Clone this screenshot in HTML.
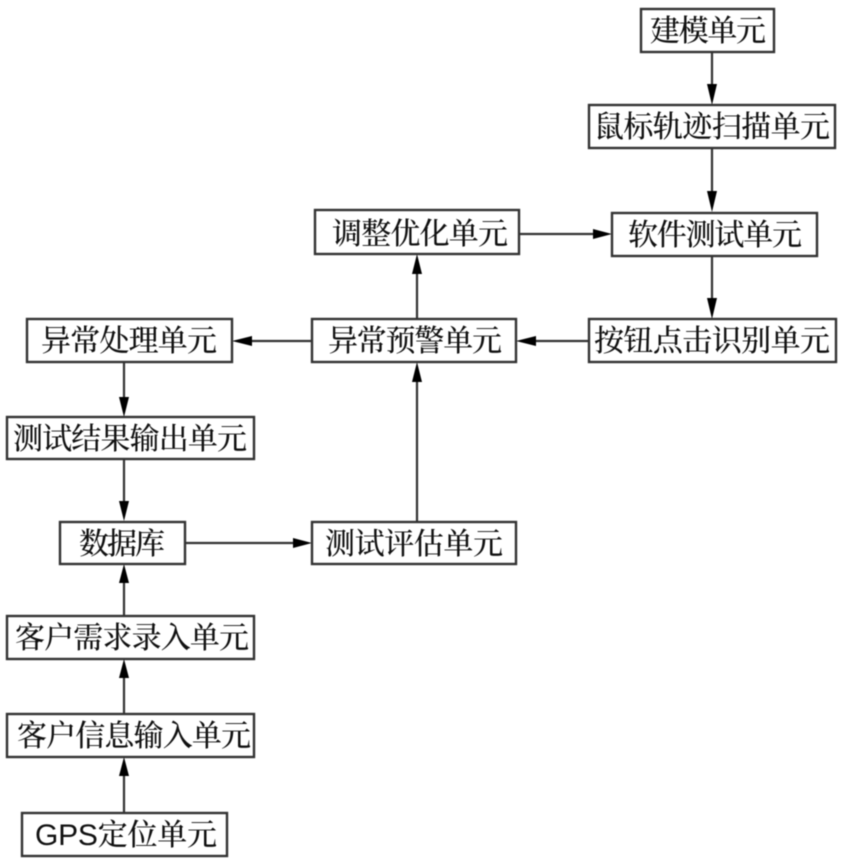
<!DOCTYPE html>
<html lang="zh">
<head>
<meta charset="utf-8">
<style>
html,body{margin:0;padding:0;background:#fff;width:843px;height:864px;overflow:hidden}
svg{display:block;filter:blur(.45px)}
rect{fill:#fff;stroke:#333;stroke-width:2.4}
line{stroke:#333;stroke-width:2.2}
polygon{fill:#000}
text{font-family:"Noto Serif CJK SC","Liberation Serif",serif;font-size:30px;font-weight:500;fill:#111;text-anchor:middle}
</style>
</head>
<body>
<svg width="843" height="864" viewBox="0 0 843 864" xmlns="http://www.w3.org/2000/svg">
<!-- connectors -->
<line x1="712" y1="52" x2="712" y2="96"/><polygon points="712,105 707,84 717,84"/>
<line x1="712" y1="148" x2="712" y2="203"/><polygon points="712,212 707,191 717,191"/>
<line x1="712" y1="256" x2="712" y2="310"/><polygon points="712,319 707,298 717,298"/>
<line x1="519" y1="234" x2="603" y2="234"/><polygon points="612,234 593,229 593,239"/>
<line x1="589" y1="341" x2="525" y2="341"/><polygon points="516,341 536,336 536,346"/>
<line x1="312" y1="341" x2="241" y2="341"/><polygon points="232,341 252,336 252,346"/>
<line x1="417" y1="319" x2="417" y2="263"/><polygon points="417,254 412,274 422,274"/>
<line x1="417" y1="521" x2="417" y2="371"/><polygon points="417,362 412,382 422,382"/>
<line x1="185" y1="543" x2="303" y2="543"/><polygon points="312,543 293,538 293,548"/>
<line x1="124" y1="362" x2="124" y2="408"/><polygon points="124,417 119,397 129,397"/>
<line x1="124" y1="459" x2="124" y2="512"/><polygon points="124,521 119,501 129,501"/>
<line x1="124" y1="616" x2="124" y2="573"/><polygon points="124,564 119,583 129,583"/>
<line x1="124" y1="714" x2="124" y2="668"/><polygon points="124,659 119,678 129,678"/>
<line x1="124" y1="813" x2="124" y2="766"/><polygon points="124,757 119,776 129,776"/>
<!-- nodes -->
<rect x="641" y="9" width="133" height="43"/>
<text x="708" y="41" textLength="116" lengthAdjust="spacing">建模单元</text>
<rect x="589" y="105" width="246" height="43"/>
<text x="712" y="137" textLength="236" lengthAdjust="spacing">鼠标轨迹扫描单元</text>
<rect x="612" y="213" width="205" height="43"/>
<text x="715" y="245" textLength="174" lengthAdjust="spacing">软件测试单元</text>
<rect x="589" y="319" width="247" height="43"/>
<text x="712" y="351" textLength="236" lengthAdjust="spacing">按钮点击识别单元</text>
<rect x="315" y="210" width="204" height="44"/>
<text x="420" y="244" textLength="176" lengthAdjust="spacing">调整优化单元</text>
<rect x="312" y="319" width="204" height="43"/>
<text x="415" y="351" textLength="174" lengthAdjust="spacing">异常预警单元</text>
<rect x="27" y="319" width="205" height="43"/>
<text x="129" y="351" textLength="176" lengthAdjust="spacing">异常处理单元</text>
<rect x="7" y="417" width="247" height="42"/>
<text x="130" y="449" textLength="234" lengthAdjust="spacing">测试结果输出单元</text>
<rect x="60" y="522" width="125" height="42"/>
<text x="122" y="554" textLength="86" lengthAdjust="spacing">数据库</text>
<rect x="312" y="522" width="204" height="42"/>
<text x="414" y="554" textLength="178" lengthAdjust="spacing">测试评估单元</text>
<rect x="7" y="616" width="247" height="43"/>
<text x="132" y="648" textLength="234" lengthAdjust="spacing">客户需求录入单元</text>
<rect x="7" y="714" width="247" height="43"/>
<text x="134" y="746" textLength="234" lengthAdjust="spacing">客户信息输入单元</text>
<rect x="22" y="813" width="205" height="43"/>
<text x="126" y="845" textLength="182" lengthAdjust="spacing"><tspan style="font-family:'Liberation Sans',sans-serif">GPS</tspan>定位单元</text>
</svg>
</body>
</html>
